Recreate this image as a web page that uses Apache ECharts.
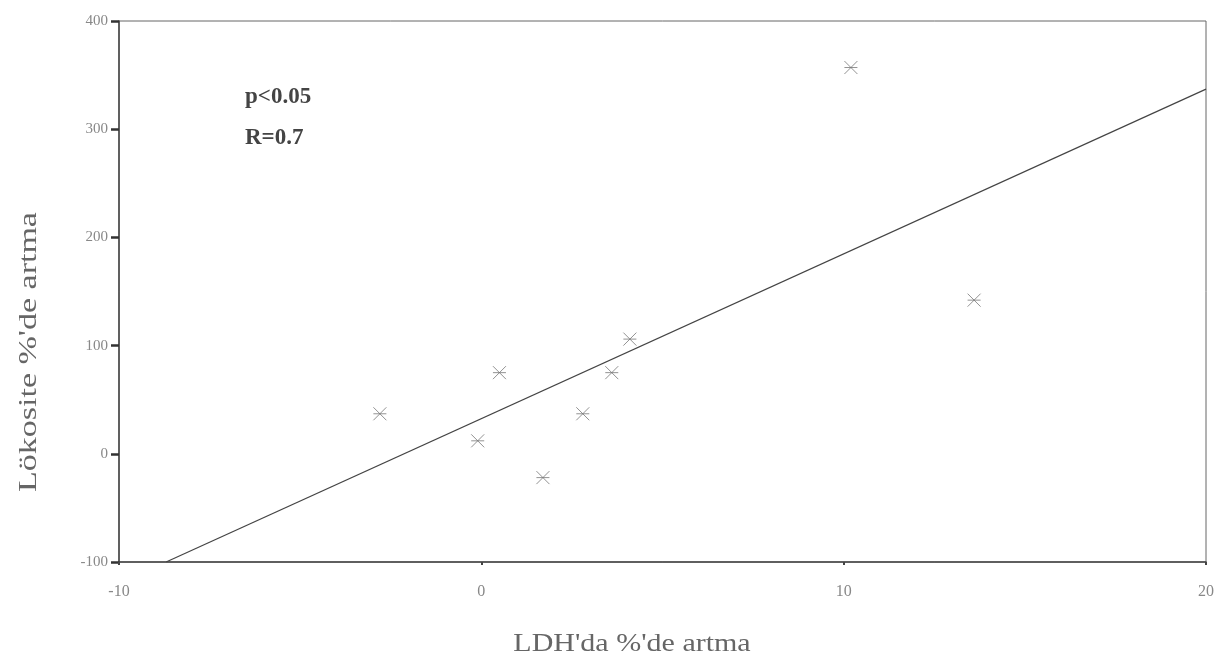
<!DOCTYPE html>
<html>
<head>
<meta charset="utf-8">
<script src="https://cdn.jsdelivr.net/npm/echarts@6/dist/echarts.min.js"></script>
<style>html,body{margin:0;padding:0;background:#fff;}#c{width:1220px;height:665px;}</style>
</head>
<body>
<div id="c"></div>
<script>
var ldhValues = [-2.8, 0.5, -0.1, 1.7, 2.8, 3.6, 4.1, 10.2, 13.6];
var lokositValues = [37, 75, 12, -22, 37, 75, 106, 357, 142];
var fitX = [-8.7, 20];
var fitY = [-100, 337];
var xTickLabels = {'-10': '-10', '0': '0', '10': '10', '20': '20'};
var yTickLabels = ['-100', '0', '100', '200', '300', '400'];
var statLines = ['p<0.05', 'R=0.7'];
var xTitle = "LDH'da %'de artma";
var yTitle = "Lökosite %'de artma";

var scatterData = ldhValues.map(function (v, i) { return [v, lokositValues[i]]; });
var fitData = fitX.map(function (v, i) { return [v, fitY[i]]; });

var chart = echarts.init(document.getElementById('c'));
chart.setOption({
  animation: false,
  backgroundColor: '#fff',
  grid: { left: 119, right: 14, top: 21, bottom: 103, show: true, borderColor: '#666', borderWidth: 1 },
  xAxis: {
    type: 'value', min: -10, max: 20, interval: 10,
    axisLine: { onZero: false, lineStyle: { color: '#444', width: 1.5 } },
    axisTick: { show: true, length: 3, lineStyle: { color: '#444', width: 2 } },
    splitLine: { show: false },
    axisLabel: {
      margin: 22, color: '#888', fontFamily: 'Liberation Serif', fontSize: 16,
      formatter: function (v) { return xTickLabels[String(v)] || ''; }
    }
  },
  yAxis: {
    type: 'value', min: -100, max: 400, interval: 100,
    axisLine: { onZero: false, lineStyle: { color: '#444', width: 1.5 } },
    axisTick: { show: true, length: 8, lineStyle: { color: '#333', width: 2.5 } },
    splitLine: { show: false },
    axisLabel: {
      margin: 11, color: '#888', fontFamily: 'Liberation Serif', fontSize: 15,
      formatter: function (v) { var s = String(v); return yTickLabels.indexOf(s) >= 0 ? s : ''; }
    }
  },
  series: [
    {
      type: 'line', data: fitData, symbol: 'none', silent: true,
      lineStyle: { color: '#444', width: 1.2 }
    },
    {
      type: 'scatter', data: scatterData,
      symbol: 'path://M0,0L10,10M10,0L0,10M0,5L10,5',
      symbolSize: 13,
      itemStyle: { color: 'rgba(0,0,0,0)', borderColor: '#777', borderWidth: 1 }
    }
  ],
  graphic: [
    { type: 'text', left: 245, top: 86, style: { text: statLines[0], font: 'bold 23px "Liberation Serif"', fill: '#444' } },
    { type: 'text', left: 245, top: 127, style: { text: statLines[1], font: 'bold 23px "Liberation Serif"', fill: '#444' } },
    { type: 'text', x: 632, y: 644, scaleX: 1.2, style: { text: xTitle, font: '25px "Liberation Serif"', fill: '#666', align: 'center', verticalAlign: 'middle' } },
    { type: 'text', x: 29, y: 352, rotation: Math.PI / 2, scaleX: 1.36, style: { text: yTitle, font: '25px "Liberation Serif"', fill: '#666', align: 'center', verticalAlign: 'middle' } }
  ]
});
</script>
</body>
</html>
